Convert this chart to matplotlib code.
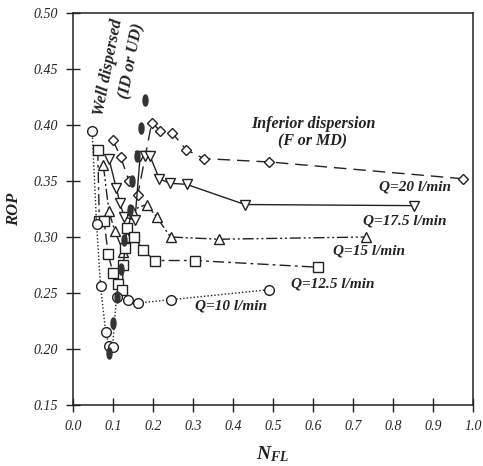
import numpy as np
import matplotlib.pyplot as plt

# Q = 20 l/min (diamonds, dashed)
nfl_20 = [0.099, 0.120, 0.140, 0.162, 0.197, 0.218, 0.248, 0.283, 0.328, 0.491, 0.976]
rop_20 = [0.387, 0.371, 0.350, 0.3375, 0.402, 0.395, 0.393, 0.378, 0.370, 0.367, 0.352]

# Q = 17.5 l/min (down triangles, solid)
nfl_175 = [0.090, 0.108, 0.118, 0.128, 0.155, 0.168, 0.180, 0.193, 0.216, 0.243, 0.284, 0.430, 0.853]
rop_175 = [0.370, 0.344, 0.330, 0.318, 0.315, 0.372, 0.372, 0.372, 0.352, 0.348, 0.347, 0.329, 0.328]

# Q = 15 l/min (up triangles, dash-dot-dot)
nfl_15 = [0.076, 0.090, 0.105, 0.126, 0.134, 0.147, 0.184, 0.209, 0.244, 0.366, 0.733]
rop_15 = [0.364, 0.323, 0.305, 0.287, 0.300, 0.324, 0.329, 0.318, 0.300, 0.298, 0.300]

# Q = 12.5 l/min (squares, dash-dot)
nfl_125 = [0.062, 0.066, 0.078, 0.088, 0.100, 0.113, 0.123, 0.126, 0.130, 0.135, 0.153, 0.176, 0.205, 0.305, 0.613]
rop_125 = [0.378, 0.314, 0.314, 0.285, 0.268, 0.258, 0.253, 0.275, 0.290, 0.308, 0.300, 0.288, 0.279, 0.279, 0.273]

# Q = 10 l/min (circles, dotted)
nfl_10 = [0.048, 0.059, 0.069, 0.082, 0.090, 0.099, 0.109, 0.138, 0.163, 0.245, 0.491]
rop_10 = [0.395, 0.312, 0.256, 0.215, 0.203, 0.202, 0.246, 0.244, 0.241, 0.244, 0.253]

# transition points (filled)
nfl_tr = [0.091, 0.099, 0.109, 0.120, 0.128, 0.1425, 0.147, 0.161, 0.170, 0.180]
rop_tr = [0.196, 0.223, 0.246, 0.271, 0.297, 0.324, 0.350, 0.372, 0.397, 0.422]

labels = ["Q=20 l/min", "Q=17.5 l/min", "Q=15 l/min", "Q=12.5 l/min", "Q=10 l/min"]
label_pos = [(0.855, 0.345), (0.83, 0.314), (0.74, 0.2875), (0.65, 0.258), (0.395, 0.238)]

ink = "#222222"
plt.rcParams['font.family'] = ['Liberation Serif', 'DejaVu Serif']
plt.rcParams['mathtext.fontset'] = 'custom'
plt.rcParams['mathtext.it'] = 'Liberation Serif:italic:bold'
plt.rcParams['mathtext.rm'] = 'Liberation Serif:bold'

fig = plt.figure(figsize=(4.83, 4.66), dpi=100)
ax = fig.add_axes([0.151, 0.131, 0.828, 0.841])

series = [
    (nfl_20, rop_20, 'D', (0, (9, 5)), 5.5),
    (nfl_175, rop_175, 'v', '-', 7),
    (nfl_15, rop_15, '^', (0, (8, 2, 1.5, 2, 1.5, 2)), 7),
    (nfl_125, rop_125, 's', (0, (8, 3, 2, 3)), 6.5),
    (nfl_10, rop_10, 'o', (0, (1, 1.5)), 7),
]
for x, y, m, ls, ms in series:
    ax.plot(x, y, color=ink, linestyle=ls, linewidth=1.0, marker=m,
            markersize=ms, markerfacecolor='white', markeredgecolor=ink,
            markeredgewidth=1.0)

# tall narrow ellipse marker for transition points
t = np.linspace(0, 2 * np.pi, 30)
ell = np.column_stack([0.45 * np.cos(t), np.sin(t)])
ax.plot(nfl_tr, rop_tr, linestyle='none', marker=ell, markersize=8,
        markerfacecolor='#333333', markeredgecolor='#333333', zorder=5)

txt = dict(fontweight='bold', fontstyle='italic', color=ink)
for lab, (lx, ly) in zip(labels, label_pos):
    ax.text(lx, ly, lab, ha='center', va='center', fontsize=11, **txt)

ax.text(0.09, 0.452, "Well dispersed", rotation=79, ha='center', va='center',
        fontsize=12, **txt)
ax.text(0.148, 0.457, "(ID or UD)", rotation=79, ha='center', va='center',
        fontsize=12, **txt)
ax.text(0.60, 0.401, "Inferior dispersion", ha='center', va='center', fontsize=11.5, **txt)
ax.text(0.60, 0.385, "(F or MD)", ha='center', va='center', fontsize=11.5, **txt)

ax.set_xlim(0, 1.0)
ax.set_ylim(0.15, 0.50)
ax.set_xticks(np.arange(0, 1.01, 0.1))
ax.set_yticks(np.arange(0.15, 0.501, 0.05))
ax.set_xticklabels(["%.1f" % v for v in np.arange(0, 1.01, 0.1)])
ax.set_yticklabels(["%.2f" % v for v in np.arange(0.15, 0.501, 0.05)])
ax.tick_params(direction='inout', length=10, width=1.0, colors=ink, labelsize=10, pad=6)
for lab in ax.get_xticklabels() + ax.get_yticklabels():
    lab.set_fontstyle('italic')
for s in ax.spines.values():
    s.set_linewidth(1.1)
    s.set_color(ink)

ax.set_xlabel(r"$N_{FL}$", fontsize=14, color=ink, labelpad=8)
ax.set_ylabel("ROP", fontsize=12, labelpad=8, **txt)

fig.savefig("out.png", dpi=100)
